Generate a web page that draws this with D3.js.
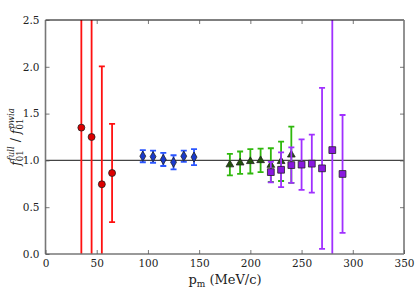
<!DOCTYPE html>
<html>
<head>
<meta charset="utf-8">
<script src="https://cdn.jsdelivr.net/npm/d3@7"></script>
<style>
  body { margin: 0; background: #fff; }
  text { font-family: "DejaVu Serif", "Liberation Serif", serif; }
</style>
</head>
<body>
<div id="chart-area"></div>
<script>
// data: momentum (MeV/c), ratio, error
const redP = [35, 45, 55, 65]
const redV = [1.35, 1.25, 0.745, 0.865]
const redE = [2.0, 1.8, 1.26, 0.525]

const blueP = [95, 105, 115, 125, 135, 145]
const blueV = [1.045, 1.04, 1.01, 0.98, 1.045, 1.035]
const blueE = [0.065, 0.065, 0.07, 0.075, 0.06, 0.085]

const greenP = [180, 190, 200, 210, 220, 230, 240]
const greenV = [0.955, 0.975, 0.99, 1.0, 0.95, 0.99, 1.06]
const greenE = [0.115, 0.12, 0.13, 0.125, 0.18, 0.21, 0.3]

const purpleP = [220, 230, 240, 250, 260, 270, 280, 290]
const purpleV = [0.875, 0.9, 0.95, 0.955, 0.965, 0.915, 1.11, 0.855]
const purpleE = [0.11, 0.185, 0.19, 0.27, 0.31, 0.86, 1.6, 0.63]

const xTicks = [0, 50, 100, 150, 200, 250, 300, 350]
const yTicks = [0.0, 0.5, 1.0, 1.5, 2.0, 2.5]

const canvas = { width: 415, height: 295 }
const margin = { left: 45.5, right: 11, top: 20, bottom: 41 }
const group = {
    width: canvas.width - margin.left - margin.right,
    height: canvas.height - margin.top - margin.bottom
}

let svg = d3.select('#chart-area')
    .append('svg')
    .attr('width', canvas.width)
    .attr('height', canvas.height)

let g = svg.append('g')
    .attr('transform', `translate(${margin.left},${margin.top})`)

let scaleX = d3.scaleLinear().domain([0, 350]).range([0, group.width])
let scaleY = d3.scaleLinear().domain([0, 2.5]).range([group.height, 0])

svg.append('defs').append('clipPath').attr('id', 'clip')
    .append('rect')
    .attr('width', group.width)
    .attr('height', group.height)

// reference line at 1
g.append('line')
    .attr('x1', 0).attr('x2', group.width)
    .attr('y1', scaleY(1)).attr('y2', scaleY(1))
    .attr('stroke', '#444').attr('stroke-width', 1.3)

let plot = g.append('g').attr('clip-path', 'url(#clip)')

const series = [
    { p: redP, v: redV, e: redE, color: '#ff1010', fill: '#dd0000', sym: d3.symbolCircle, size: 38 },
    { p: blueP, v: blueV, e: blueE, color: '#2a55ff', fill: '#1a3acc', sym: d3.symbolDiamond, size: 30 },
    { p: greenP, v: greenV, e: greenE, color: '#2fb80c', fill: '#22520c', sym: d3.symbolTriangle, size: 26 },
    { p: purpleP, v: purpleV, e: purpleE, color: '#a030ff', fill: '#8a18e0', sym: d3.symbolSquare, size: 46 }
]

series.forEach(s => {
    let data = s.p.map((p, i) => ({ p: p, v: s.v[i], e: s.e[i] }))
    let sg = plot.append('g')
    sg.selectAll('line.bar')
        .data(data)
        .enter()
        .append('line')
        .attr('x1', d => scaleX(d.p)).attr('x2', d => scaleX(d.p))
        .attr('y1', d => scaleY(d.v - d.e)).attr('y2', d => scaleY(d.v + d.e))
        .attr('stroke', s.color).attr('stroke-width', 1.8)
    ;['lo', 'hi'].forEach(k => {
        sg.selectAll('line.cap' + k)
            .data(data)
            .enter()
            .append('line')
            .attr('x1', d => scaleX(d.p) - 3).attr('x2', d => scaleX(d.p) + 3)
            .attr('y1', d => scaleY(k == 'lo' ? d.v - d.e : d.v + d.e))
            .attr('y2', d => scaleY(k == 'lo' ? d.v - d.e : d.v + d.e))
            .attr('stroke', s.color).attr('stroke-width', 1.8)
    })
    sg.selectAll('path')
        .data(data)
        .enter()
        .append('path')
        .attr('d', d3.symbol().type(s.sym).size(s.size))
        .attr('transform', d => `translate(${scaleX(d.p)},${scaleY(d.v)})`)
        .attr('fill', s.fill)
        .attr('stroke', '#222').attr('stroke-width', 0.8)
})

// frame
g.append('line').attr('x1', 0).attr('x2', group.width).attr('y1', 0).attr('y2', 0)
    .attr('stroke', '#000').attr('stroke-width', 1)
g.append('line').attr('x1', 0).attr('x2', 0).attr('y1', 0).attr('y2', group.height)
    .attr('stroke', '#777').attr('stroke-width', 1.6)
g.append('line').attr('x1', group.width).attr('x2', group.width).attr('y1', 0).attr('y2', group.height)
    .attr('stroke', '#777').attr('stroke-width', 1.6)
g.append('line').attr('x1', 0).attr('x2', group.width).attr('y1', group.height).attr('y2', group.height)
    .attr('stroke', '#777').attr('stroke-width', 1.6)

// axes with inward ticks
let xAxis = d3.axisBottom(scaleX).tickValues(xTicks).tickSizeInner(-4).tickSizeOuter(0).tickPadding(6)
let xg = g.append('g')
    .attr('transform', `translate(0, ${group.height})`)
    .call(xAxis)
let xTop = d3.axisTop(scaleX).tickValues(xTicks.slice(1, -1)).tickSizeInner(-4).tickSizeOuter(0).tickFormat('')
let xtg = g.append('g').call(xTop)

let yAxis = d3.axisLeft(scaleY).tickValues(yTicks).tickSizeInner(-4).tickSizeOuter(0).tickPadding(6)
    .tickFormat(d3.format('.1f'))
let yg = g.append('g').call(yAxis)
let yRight = d3.axisRight(scaleY).tickValues(yTicks.slice(1, -1)).tickSizeInner(-4).tickSizeOuter(0).tickFormat('')
let yrg = g.append('g').attr('transform', `translate(${group.width},0)`).call(yRight)

;[xg, xtg, yg, yrg].forEach(a => {
    a.select('.domain').remove()
    a.selectAll('line').attr('stroke', '#555').attr('stroke-width', 0.8)
    a.selectAll('text')
        .attr('font-family', '"DejaVu Serif", serif')
        .attr('font-size', 10.5)
        .attr('fill', '#222')
})

// x label
let xl = svg.append('text')
    .attr('x', 225).attr('y', 284)
    .attr('text-anchor', 'middle')
    .attr('font-size', 13)
    .attr('fill', '#222')
xl.append('tspan').text('p')
xl.append('tspan').attr('font-size', 9).attr('dy', 3).text('m')
xl.append('tspan').attr('dy', -3).text(' (MeV/c)')

// y label
let yl = svg.append('text')
    .attr('transform', `translate(20, ${margin.top + group.height / 2}) rotate(-90)`)
    .attr('text-anchor', 'middle')
    .attr('font-size', 12.5)
    .attr('font-style', 'italic')
    .attr('fill', '#222')
yl.append('tspan').text('f')
yl.append('tspan').attr('font-size', 8.5).attr('font-style', 'normal').attr('dy', 3).text('01')
yl.append('tspan').attr('font-size', 8.5).attr('dx', -10).attr('dy', -9).text('full')
yl.append('tspan').attr('dy', 6).attr('font-style', 'normal').text(' / ')
yl.append('tspan').text('f')
yl.append('tspan').attr('font-size', 8.5).attr('font-style', 'normal').attr('dy', 3).text('01')
yl.append('tspan').attr('font-size', 8.5).attr('dx', -10).attr('dy', -9).text('pwia')
</script>
</body>
</html>
